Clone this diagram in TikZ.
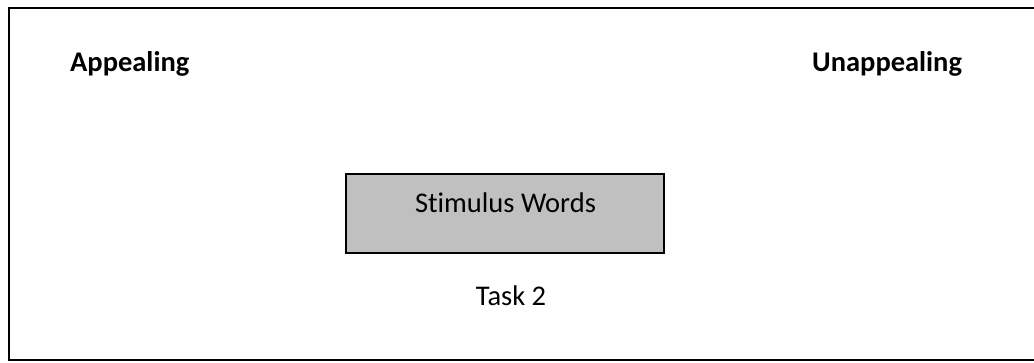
\documentclass[tikz,border=0pt]{standalone}
\usepackage{fontspec}
\setmainfont[Ligatures=NoCommon]{Carlito}
\definecolor{boxgray}{HTML}{C0C0C0}
\begin{document}
\begin{tikzpicture}[x=1pt,y=-1pt,
  lbl/.style={inner sep=0pt,font=\fontsize{28.5}{34}\selectfont},
  hdr/.style={lbl,font=\fontsize{28.5}{34}\selectfont\bfseries},
  stim/.style={draw=black,line width=1.5pt,fill=boxgray}]
\useasboundingbox (0,0) rectangle (1034,362);
\draw[line width=2pt] (1036,8) -- (9,8) -- (9,360) -- (1036,360);
\node[hdr,anchor=base west] (app) at (70,71) {Appealing};
\node[hdr,anchor=base west] (unapp) at (812,71) {Unappealing};
\draw[stim] (346,174) rectangle (664,253);
\node[lbl,anchor=base] (stimtext) at (505.5,212) {Stimulus Words};
\node[lbl,anchor=base] (task) at (511,305) {Task 2};
\end{tikzpicture}
\end{document}
